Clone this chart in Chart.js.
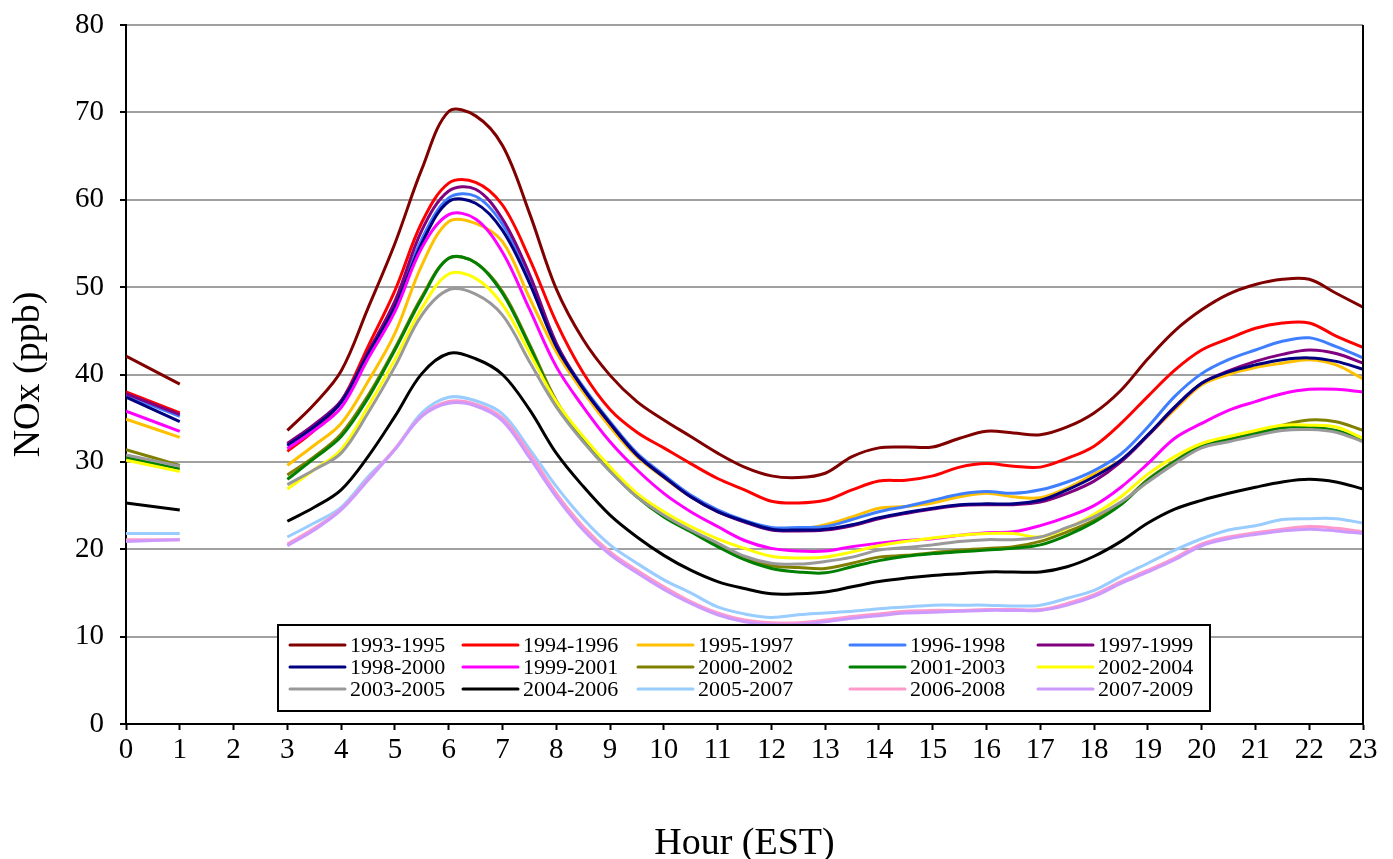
<!DOCTYPE html>
<html>
<head>
<meta charset="utf-8">
<title>NOx by hour</title>
<script src="https://cdn.jsdelivr.net/npm/chart.js@4.4.1/dist/chart.umd.min.js"></script>
<style>
    html, body { margin: 0; padding: 0; background: #fff; }
    #wrap { width: 1393px; height: 859px; position: relative; }
</style>
</head>
<body>
<div id="wrap"><canvas id="nox-chart"></canvas></div>
<script>
// hours of the day (EST); hour 2 has no data
const hours = [0, 1, 2, 3, 3.5, 4, 4.5, 5, 5.5, 6, 6.5, 7, 7.5, 8, 8.5, 9, 9.5, 10, 10.5, 11, 11.5,
    12, 12.5, 13, 13.5, 14, 14.5, 15, 15.5, 16, 16.5, 17, 17.5, 18, 18.5, 19, 19.5, 20, 20.5, 21, 21.5, 22, 22.5, 23];

const seriesNames = ['1993-1995', '1994-1996', '1995-1997', '1996-1998', '1997-1999',
    '1998-2000', '1999-2001', '2000-2002', '2001-2003', '2002-2004',
    '2003-2005', '2004-2006', '2005-2007', '2006-2008', '2007-2009'];

const seriesColors = ['#800000', '#ff0000', '#ffc000', '#3f7fff', '#800080',
    '#000080', '#ff00ff', '#808000', '#008000', '#ffff00',
    '#999999', '#000000', '#99ccff', '#ff99cc', '#cc99ff'];

const nox1993 = [42.1, 38.9, null,
    33.6, 36.6, 40.4, 47.6, 55.0, 63.5, 70.1, 69.6, 66.2, 58.5,
    49.8, 44.0, 39.9, 36.9, 34.8, 32.9, 31.0, 29.4, 28.4, 28.2,
    28.7, 30.6, 31.6, 31.7, 31.7, 32.7, 33.5, 33.3, 33.1, 34.0,
    35.6, 38.2, 41.8, 45.0, 47.4, 49.2, 50.3, 50.9, 50.9, 49.3, 47.7];
const nox1994 = [38.0, 35.6, null,
    31.2, 33.6, 36.9, 43.2, 49.6, 57.4, 61.9, 62.0, 59.4, 53.3,
    46.0, 40.2, 36.0, 33.4, 31.6, 29.8, 28.1, 26.8, 25.5, 25.3,
    25.6, 26.8, 27.8, 27.9, 28.4, 29.4, 29.8, 29.5, 29.4, 30.4,
    31.8, 34.4, 37.5, 40.5, 42.8, 44.1, 45.3, 45.9, 45.9, 44.4, 43.1];
const nox1995 = [34.9, 32.8, null,
    29.6, 31.9, 34.4, 39.2, 44.7, 52.5, 57.5, 57.3, 55.2, 48.8,
    42.6, 38.0, 34.0, 30.6, 28.2, 26.0, 24.3, 23.2, 22.4, 22.3,
    22.8, 23.7, 24.7, 24.9, 25.3, 26.0, 26.4, 26.0, 25.9, 27.0,
    28.6, 30.2, 33.0, 36.0, 38.8, 40.0, 40.8, 41.3, 41.7, 41.1, 39.5];
const nox1996 = [37.6, 35.2, null,
    31.8, 34.0, 36.8, 42.4, 48.0, 55.5, 60.2, 60.4, 57.2, 51.0,
    43.4, 38.6, 34.6, 31.0, 28.5, 26.2, 24.5, 23.3, 22.5, 22.5,
    22.6, 23.4, 24.3, 24.9, 25.6, 26.3, 26.6, 26.4, 26.8, 27.7,
    29.0, 30.9, 34.0, 37.5, 40.1, 41.7, 42.8, 43.8, 44.2, 43.2, 41.9];
const nox1997 = [37.8, 35.4, null,
    32.1, 34.3, 37.0, 42.6, 48.4, 56.5, 61.0, 61.2, 57.8, 51.5,
    43.6, 38.4, 34.4, 30.8, 28.3, 26.0, 24.3, 23.1, 22.2, 22.1,
    22.2, 22.7, 23.5, 24.1, 24.6, 25.0, 25.1, 25.1, 25.4, 26.4,
    27.8, 30.0, 33.0, 36.2, 39.0, 40.4, 41.5, 42.3, 42.8, 42.4, 41.3];
const nox1998 = [37.4, 34.6, null,
    31.9, 34.0, 36.8, 42.3, 47.7, 55.0, 59.8, 59.6, 56.5, 50.5,
    43.2, 38.4, 34.4, 30.8, 28.3, 26.0, 24.3, 23.2, 22.3, 22.2,
    22.3, 22.8, 23.6, 24.2, 24.7, 25.1, 25.2, 25.2, 25.6, 26.8,
    28.3, 30.2, 33.1, 36.3, 39.0, 40.3, 41.1, 41.7, 41.9, 41.5, 40.6];
const nox1999 = [35.8, 33.5, null,
    31.5, 33.6, 36.2, 41.8, 47.2, 54.5, 58.3, 57.8, 54.0, 47.5,
    40.9, 36.3, 32.3, 29.1, 26.4, 24.3, 22.6, 21.0, 20.1, 19.8,
    19.8, 20.3, 20.7, 21.0, 21.2, 21.6, 21.9, 22.0, 22.7, 23.7,
    25.0, 27.1, 29.8, 32.7, 34.4, 35.9, 36.9, 37.8, 38.3, 38.3, 38.0];
const nox2000 = [31.4, 29.6, null,
    28.5, 30.6, 33.2, 37.6, 43.0, 48.9, 53.3, 52.8, 49.5, 43.5,
    37.0, 32.6, 29.1, 26.1, 23.8, 22.1, 20.5, 19.0, 18.1, 17.9,
    17.8, 18.4, 19.1, 19.3, 19.6, 19.9, 20.1, 20.3, 20.9, 22.0,
    23.3, 25.2, 28.0, 30.1, 31.9, 32.6, 33.3, 34.2, 34.8, 34.6, 33.6];
const nox2001 = [30.5, 29.2, null,
    28.0, 30.4, 32.9, 37.3, 42.8, 48.7, 53.3, 52.8, 49.3, 43.3,
    36.7, 32.5, 29.0, 26.0, 23.7, 22.0, 20.3, 18.8, 17.8, 17.4,
    17.3, 18.0, 18.7, 19.2, 19.5, 19.7, 19.9, 20.1, 20.5, 21.6,
    23.1, 25.1, 27.9, 30.0, 31.8, 32.5, 33.2, 33.9, 34.0, 33.6, 32.6];
const nox2002 = [30.2, 28.9, null,
    26.9, 29.1, 31.4, 36.3, 41.7, 47.6, 51.5, 51.0, 48.0, 42.5,
    36.9, 32.9, 29.4, 26.4, 24.3, 22.6, 21.2, 20.1, 19.2, 19.0,
    19.1, 19.7, 20.4, 20.9, 21.3, 21.6, 21.8, 21.8, 21.4, 22.4,
    24.0, 26.0, 28.6, 30.6, 32.1, 32.9, 33.6, 34.2, 34.2, 34.0, 32.7];
const nox2003 = [30.8, 29.5, null,
    27.4, 29.1, 31.0, 35.6, 40.9, 46.8, 49.7, 49.2, 46.8, 41.5,
    36.3, 32.3, 28.9, 26.0, 23.9, 22.2, 20.7, 19.2, 18.4, 18.3,
    18.6, 19.1, 19.9, 20.2, 20.5, 20.9, 21.1, 21.1, 21.4, 22.5,
    23.7, 25.4, 27.7, 29.8, 31.6, 32.3, 33.0, 33.6, 33.7, 33.4, 32.3];
const nox2004 = [25.3, 24.5, null,
    23.2, 24.8, 26.8, 30.6, 35.2, 40.1, 42.4, 41.8, 40.0, 36.0,
    31.0, 27.2, 23.9, 21.4, 19.3, 17.6, 16.3, 15.5, 14.9, 14.9,
    15.1, 15.7, 16.3, 16.7, 17.0, 17.2, 17.4, 17.4, 17.4, 18.0,
    19.2, 20.9, 23.0, 24.6, 25.6, 26.4, 27.1, 27.7, 28.0, 27.7, 26.9];
const nox2005 = [21.8, 21.8, null,
    21.4, 23.0, 24.8, 28.3, 31.4, 35.6, 37.4, 37.0, 35.5, 31.5,
    27.2, 23.5, 20.5, 18.4, 16.5, 15.0, 13.4, 12.6, 12.2, 12.5,
    12.7, 12.9, 13.2, 13.4, 13.6, 13.6, 13.6, 13.5, 13.6, 14.4,
    15.3, 16.9, 18.4, 19.9, 21.2, 22.2, 22.7, 23.4, 23.5, 23.5, 23.0];
const nox2006 = [21.1, 21.1, null,
    20.6, 22.4, 24.6, 28.0, 31.5, 35.3, 36.9, 36.6, 35.0, 31.0,
    26.4, 22.6, 19.7, 17.6, 15.7, 14.0, 12.7, 11.9, 11.6, 11.6,
    11.9, 12.3, 12.6, 12.9, 13.0, 13.0, 13.1, 13.1, 13.1, 13.8,
    14.8, 16.3, 17.6, 19.0, 20.6, 21.4, 21.9, 22.3, 22.6, 22.4, 22.0];
const nox2007 = [20.9, 21.1, null,
    20.4, 22.2, 24.5, 27.9, 31.4, 35.2, 36.7, 36.4, 34.7, 30.5,
    26.0, 22.2, 19.4, 17.3, 15.4, 13.8, 12.5, 11.7, 11.4, 11.4,
    11.7, 12.1, 12.4, 12.7, 12.8, 12.9, 13.0, 13.0, 13.0, 13.6,
    14.6, 16.1, 17.4, 18.8, 20.4, 21.2, 21.7, 22.1, 22.3, 22.1, 21.8];

const seriesValues = [nox1993, nox1994, nox1995, nox1996, nox1997, nox1998, nox1999, nox2000,
    nox2001, nox2002, nox2003, nox2004, nox2005, nox2006, nox2007];

const yTicks = [0, 10, 20, 30, 40, 50, 60, 70, 80];

const serif = '"Liberation Serif", "Times New Roman", Times, serif';

// legend drawn as a boxed 5-column block inside the plot, like the original
const boxLegend = {
    id: 'boxLegend',
    afterDraw(chart) {
        const ctx = chart.ctx;
        const area = chart.chartArea;
        ctx.save();

        // right edge of the plot area
        ctx.strokeStyle = '#000';
        ctx.lineWidth = 2;
        ctx.beginPath();
        ctx.moveTo(area.right, area.top);
        ctx.lineTo(area.right, area.bottom);
        ctx.stroke();

        const box = { left: 278, top: 625, width: 932, height: 86 };
        const cols = [290, 463, 638, 850, 1038];
        ctx.fillStyle = '#fff';
        ctx.fillRect(box.left, box.top, box.width, box.height);
        ctx.strokeStyle = '#000';
        ctx.lineWidth = 2;
        ctx.strokeRect(box.left, box.top, box.width, box.height);

        ctx.font = '22px ' + serif;
        ctx.textBaseline = 'middle';
        ctx.textAlign = 'left';
        seriesNames.forEach((name, i) => {
            const x = cols[i % 5];
            const y = 645 + Math.floor(i / 5) * 22;
            ctx.strokeStyle = seriesColors[i];
            ctx.lineWidth = 3;
            ctx.lineCap = 'round';
            ctx.beginPath();
            ctx.moveTo(x, y);
            ctx.lineTo(x + 55, y);
            ctx.stroke();
            ctx.fillStyle = '#000';
            ctx.fillText(name, x + 60, y + 1);
        });
        ctx.restore();
    }
};

document.addEventListener('DOMContentLoaded', function () {
    const ctx = document.getElementById('nox-chart').getContext('2d');

    const datasets = seriesNames.map((name, i) => ({
        label: name,
        data: hours.map((h, j) => ({ x: h, y: seriesValues[i][j] })),
        borderColor: seriesColors[i],
        backgroundColor: seriesColors[i],
        borderWidth: 3,
        pointRadius: 0,
        fill: false,
        spanGaps: false,
        tension: 0.35,
        order: -i
    }));

    new Chart(ctx, {
        type: 'line',
        data: { datasets: datasets },
        options: {
            responsive: true,
            maintainAspectRatio: false,
            animation: false,
            events: [],
            layout: { padding: { top: 25, right: 30, left: 0, bottom: 0 } },
            plugins: {
                legend: { display: false },
                tooltip: { enabled: false }
            },
            scales: {
                x: {
                    type: 'linear',
                    min: 0,
                    max: 23,
                    afterFit: scale => { scale.height = 135; },
                    ticks: {
                        stepSize: 1,
                        color: '#000',
                        padding: 3,
                        font: { family: serif, size: 29 }
                    },
                    grid: {
                        drawOnChartArea: false,
                        drawTicks: true,
                        tickLength: 6,
                        tickColor: '#000',
                        tickWidth: 2
                    },
                    border: { color: '#000', width: 2 },
                    title: {
                        display: true,
                        text: 'Hour (EST)',
                        color: '#000',
                        padding: { top: 0, bottom: 0 },
                        font: { family: serif, size: 38, lineHeight: 0.8 }
                    }
                },
                y: {
                    min: 0,
                    max: 80,
                    afterFit: scale => { scale.width = 126; },
                    afterBuildTicks: scale => { scale.ticks = yTicks.map(v => ({ value: v })); },
                    ticks: {
                        color: '#000',
                        padding: 16,
                        font: { family: serif, size: 29, lineHeight: 0.5 }
                    },
                    grid: {
                        color: '#a0a0a0',
                        lineWidth: 2,
                        drawTicks: true,
                        tickLength: 6,
                        tickColor: '#000',
                        tickWidth: 2
                    },
                    border: { color: '#000', width: 2 },
                    title: {
                        display: true,
                        text: 'NOx (ppb)',
                        color: '#000',
                        padding: { top: 10, bottom: 0 },
                        font: { family: serif, size: 38, lineHeight: 1 }
                    }
                }
            }
        },
        plugins: [boxLegend]
    });
});
</script>
</body>
</html>
